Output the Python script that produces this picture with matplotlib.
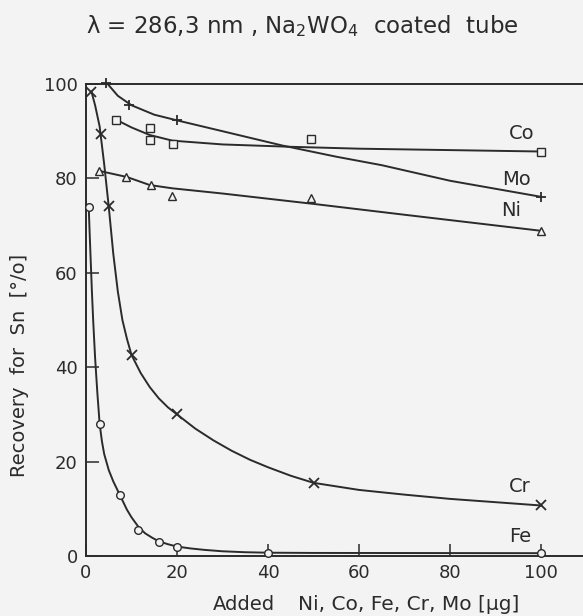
import matplotlib
matplotlib.use('Agg')
import matplotlib.pyplot as plt
import numpy as np

plt.rcParams['font.family'] = ['DejaVu Sans']
plt.rcParams['mathtext.default'] = 'regular'

ink = '#2b2b2b'
bg = '#f3f3f3'

# -- measured points (markers)
fe_x = [0.6, 3.0, 7.5, 11.5, 16, 20, 40, 100]
fe_y = [74, 28, 13, 5.5, 3.0, 2.0, 0.7, 0.6]
cr_x = [1.2, 3.3, 5.0, 10, 20, 50, 100]
cr_y = [98.4, 89.4, 74.2, 42.6, 30, 15.5, 10.7]
mo_x = [4.5, 9.5, 20, 100]
mo_y = [100.3, 95.5, 92.4, 76.1]
co_x = [6.7, 14, 14, 19.2, 49.4, 100]
co_y = [92.4, 90.6, 88.1, 87.3, 88.3, 85.7]
ni_x = [2.9, 8.9, 14.3, 19, 49.4, 100]
ni_y = [81.6, 80.4, 78.5, 76.3, 75.8, 68.9]

# -- fitted curves
fe_cx = [0.6, 0.8, 1.0, 1.3, 1.6, 2.0, 2.5, 3.0, 3.5, 4, 5, 6, 7, 7.5, 9, 10,
         11.5, 13, 14.5, 16, 18, 20, 23, 26, 30, 35, 40, 50, 100]
fe_cy = [74, 68.5, 63.5, 56, 49.5, 42, 34.5, 28, 24.3, 21.6, 18.2, 15.8, 13.8, 12.8, 9.8, 8.2,
         6.2, 4.8, 3.9, 3.1, 2.5, 2.0, 1.6, 1.3, 1.0, 0.8, 0.7, 0.65, 0.6]
cr_cx = [1.2, 2, 3, 4, 5, 6, 7, 8, 9, 10, 12, 14, 16, 18, 20, 24, 28, 32, 36,
         40, 45, 50, 60, 70, 80, 90, 100]
cr_cy = [98.4, 95.5, 91, 83, 74, 64, 56, 50, 46, 42.6, 38.8, 35.8, 33.4, 31.5, 30, 27, 24.5, 22.3, 20.4,
         18.8, 17, 15.5, 14, 13, 12.1, 11.4, 10.7]
mo_cx = [4.5, 7, 10, 15, 20, 30, 43, 55, 65, 80, 100]
mo_cy = [100.3, 97.5, 95.5, 93.5, 92.3, 90, 87, 84.6, 82.8, 79.5, 76.1]
co_cx = [6.7, 10, 14, 19, 30, 45, 60, 80, 100]
co_cy = [92.4, 90.8, 89.2, 88, 87.2, 86.7, 86.3, 86, 85.7]
ni_cx = [2.9, 9, 14, 19, 30, 50, 70, 100]
ni_cy = [81.6, 80.3, 78.6, 77.9, 76.8, 74.6, 72.3, 68.9]

xticks = [0, 20, 40, 60, 80, 100]
yticks = [0, 20, 40, 60, 80, 100]

fig = plt.figure(figsize=(5.83, 6.16), dpi=100, facecolor=bg)
ax = fig.add_axes([0.1475, 0.0974, 0.8525, 0.7662], facecolor=bg)

for cx, cy in [(fe_cx, fe_cy), (cr_cx, cr_cy), (mo_cx, mo_cy), (co_cx, co_cy), (ni_cx, ni_cy)]:
    ax.plot(cx, cy, color=ink, lw=1.4, zorder=2, solid_joinstyle='round')

mk = dict(ls='none', color=ink, mfc=bg, mec=ink, zorder=3, clip_on=False)
ax.plot(fe_x, fe_y, marker='o', ms=5.5, mew=1.0, **mk)
ax.plot(cr_x, cr_y, marker='x', ms=6.5, mew=1.3, **mk)
ax.plot(mo_x, mo_y, marker='+', ms=7.5, mew=1.3, **mk)
ax.plot(co_x, co_y, marker='s', ms=5.5, mew=1.0, **mk)
ax.plot(ni_x, ni_y, marker='^', ms=5.5, mew=1.0, **mk)

lab = dict(fontsize=14, color=ink, ha='center', va='center')
ax.text(95.8, 89.6, 'Co', **lab)
ax.text(94.5, 79.7, 'Mo', **lab)
ax.text(93.4, 73.3, 'Ni', **lab)
ax.text(95.4, 14.8, 'Cr', **lab)
ax.text(95.4, 4.2, 'Fe', **lab)

ax.set_xlim(0, 109.2)
ax.set_ylim(0, 100)
ax.set_xticks(xticks)
ax.set_yticks(yticks)
ax.tick_params(direction='in', length=9, width=1.1, colors=ink, labelsize=13, pad=6)
ax.spines['right'].set_visible(False)
for s in ['left', 'top', 'bottom']:
    ax.spines[s].set_color(ink)
    ax.spines[s].set_linewidth(1.4)

fig.text(0.518, 0.958, r'$\lambda$ = 286,3 nm , Na$_2$WO$_4$  coated  tube',
         fontsize=16.5, color=ink, ha='center', va='center')
fig.text(0.034, 0.406, 'Recovery  for  Sn  [°/o]', rotation=90,
         fontsize=14, color=ink, ha='center', va='center')
fig.text(213 / 583, 0.018, 'Added', fontsize=14, color=ink, ha='left', va='center')
fig.text(298 / 583, 0.018, 'Ni, Co, Fe, Cr, Mo [µg]',
         fontsize=14.5, color=ink, ha='left', va='center')

fig.savefig('out.png', dpi=100, facecolor=bg)
